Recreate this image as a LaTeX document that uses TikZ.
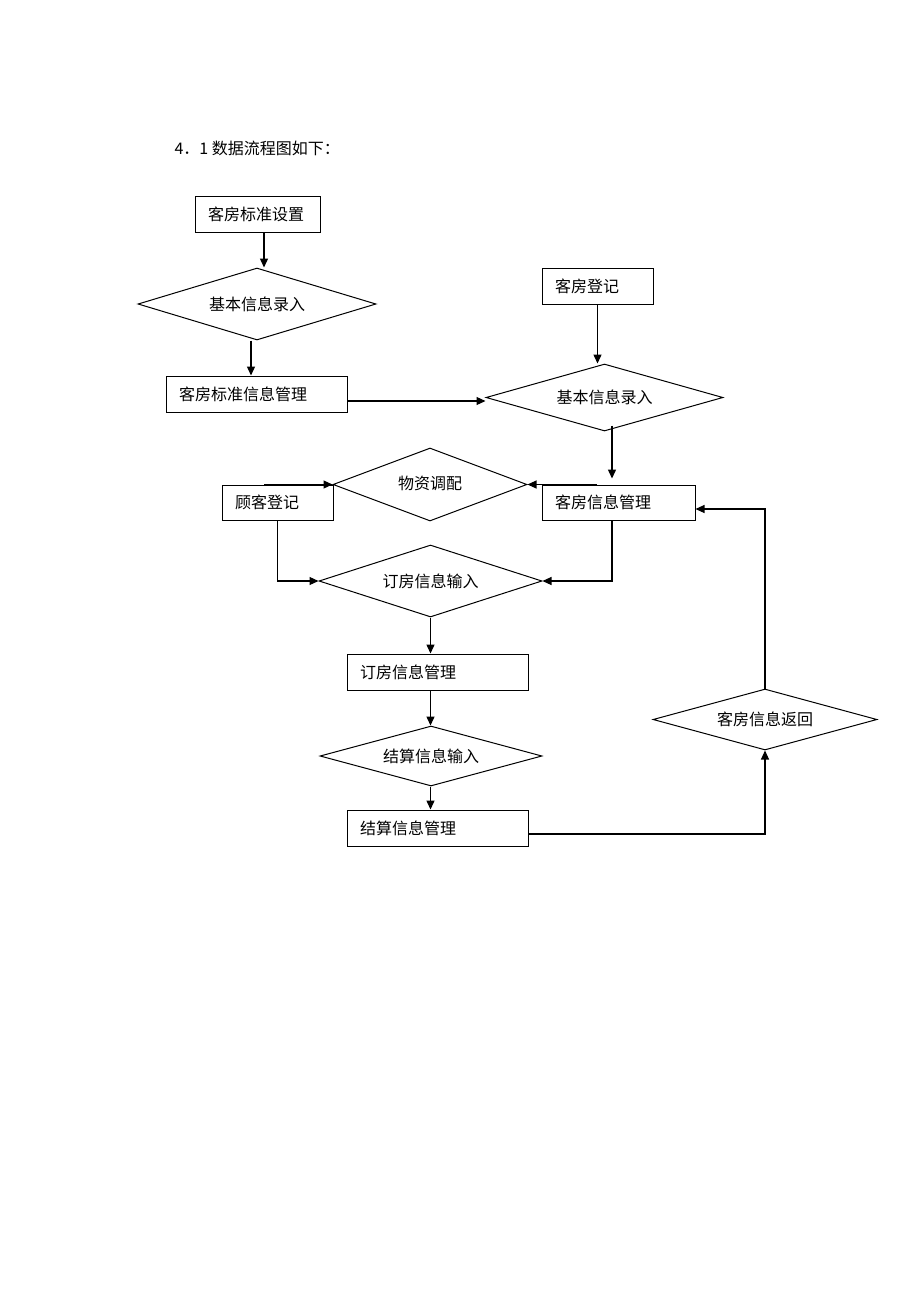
\documentclass[tikz,border=0pt]{standalone}
\usepackage{fontspec}
\newfontfamily\cjk{Noto Sans CJK SC}
\usetikzlibrary{shapes.geometric,arrows.meta,calc}
\begin{document}
\begin{tikzpicture}[x=1pt,y=-1pt,
  font=\cjk\fontsize{16}{18}\selectfont,
  box/.style={draw,line width=1pt,rectangle,inner xsep=13pt,inner ysep=0pt,align=left},
  dia/.style={draw,line width=1pt,diamond,aspect=3.3,inner sep=0pt},
  arr/.style={line width=1.4pt,-{Triangle[length=9pt,width=8pt]}},
  harr/.style={line width=1.1pt,-{Triangle[length=9pt,width=8pt]}}]
\useasboundingbox[fill=white] (0,0) rectangle (920,1302);

\node[anchor=west] (T) at (171,148) {4．1 数据流程图如下：};

% boxes
\node[box,text width=99pt,minimum width=125pt,minimum height=36pt] (A) at (257.5,214) {客房标准设置};
\node[box,text width=155pt,minimum width=181pt,minimum height=36pt] (B) at (256.5,394) {客房标准信息管理};
\node[box,text width=85pt,minimum width=111pt,minimum height=36pt] (C) at (597.5,286) {客房登记};
\node[box,text width=127pt,minimum width=153pt,minimum height=35pt] (E) at (618.5,502.5) {客房信息管理};
\node[box,text width=85pt,minimum width=111pt,minimum height=35pt] (F) at (277.5,502.5) {顾客登记};
\node[box,text width=155pt,minimum width=181pt,minimum height=36pt] (I) at (437.5,672) {订房信息管理};
\node[box,text width=155pt,minimum width=181pt,minimum height=36pt] (K) at (437.5,828) {结算信息管理};

% diamonds
\node[dia,minimum width=238pt,minimum height=72pt] (D1) at (257,304) {基本信息录入};
\node[dia,minimum width=237pt,minimum height=67pt] (D2) at (604.5,397.5) {基本信息录入};
\node[dia,minimum width=194pt,minimum height=73pt] (G) at (430,484.5) {\raisebox{3pt}{物资调配}};
\node[dia,minimum width=223pt,minimum height=72pt] (H) at (430.5,581) {订房信息输入};
\node[dia,minimum width=222pt,minimum height=60pt] (J) at (431,756) {结算信息输入};
\node[dia,minimum width=224pt,minimum height=61pt] (L) at (765,719.5) {客房信息返回};

% connectors
\draw[arr] ([xshift=6.5pt]A.south) -- ([xshift=6.5pt]A.south |- D1.north);
\draw[arr] ([xshift=-6pt]D1.south) -- ([xshift=-6pt]D1.south |- B.north);
\draw[harr] ([yshift=-7pt]B.east) -- ([yshift=-7pt]B.east -| D2.west);
\draw[arr] (C.south) -- (C.south |- D2.north);
\draw[arr] ([xshift=7.5pt,yshift=6pt]D2.south) -- ([xshift=7.5pt,yshift=6pt]D2.south |- E.north);
\draw[harr] ([xshift=-13.5pt]F.north) -- (G.west);
\draw[harr] ([xshift=-21.5pt]E.north) -- (G.east);
\draw[harr] (F.south) |- (H.west);
\draw[harr] ([xshift=-6.5pt]E.south) |- (H.east);
\draw[arr] (H.south) -- (H.south |- I.north);
\draw[arr] ([xshift=-7pt]I.south) -- ([xshift=-7pt]I.south |- J.north);
\draw[arr] ([xshift=-7pt]K.north |- J.south) -- ([xshift=-7pt]K.north);
\draw[harr] ([yshift=-6pt]K.east) -| (L.south);
\draw[harr] (L.north) |- ([yshift=-6.5pt]E.east);
\end{tikzpicture}
\end{document}
